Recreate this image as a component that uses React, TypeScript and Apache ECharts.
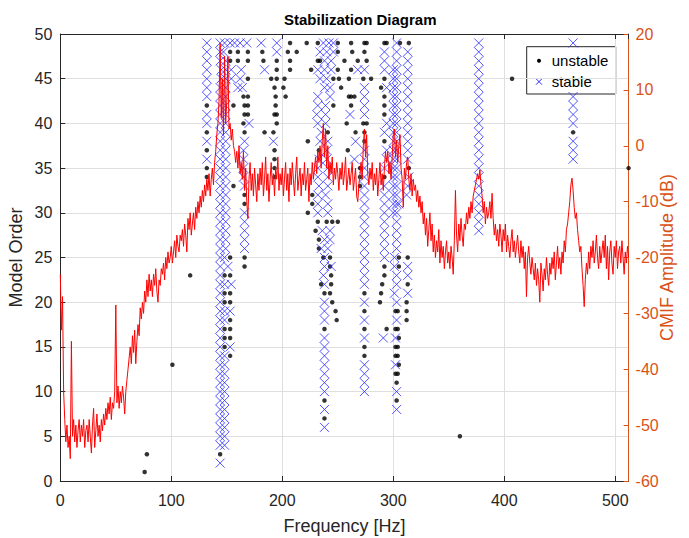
import React, { useEffect, useRef } from "react";
import * as echarts from "echarts";

// CMIF amplitude (dB), one value per Hz from 0 Hz to 512 Hz
const cmifDb: number[] = [
  -23, -33, -27, -44, -49, -53, -50, -54, -52, -56,
  -35, -52, -49, -53, -50, -54, -51, -49, -53, -50,
  -52, -49, -54, -51, -50, -53, -49, -52, -55, -50,
  -47, -54, -51, -48, -52, -50, -53, -49, -51, -48,
  -50, -47, -49, -46, -48, -45, -49, -46, -47, -44,
  -28.5, -46, -43, -47, -44, -46, -43, -45, -48, -44,
  -42, -40, -38, -36, -39, -34, -37, -33, -39, -35,
  -32, -34, -29, -31, -28, -30, -26, -28, -24, -27,
  -23, -26, -24, -27, -23, -25, -22, -26, -28, -24,
  -25, -22, -23, -21, -24, -20, -22, -19, -21, -20,
  -18, -21, -19, -17, -20, -16, -18, -19, -16, -17,
  -15, -18, -14, -16, -19, -13, -15, -12, -16, -14,
  -12, -15, -11, -13, -10, -12, -9, -11, -8, -10,
  -7, -9, -6, -8, -5, -9, -6, -4, -7, -3,
  -1, 2, 4, 8, 18.3, 5, 12, 2, 16, 4,
  8, 16, 3, 4, 1, 3, 0, -1, -3, -1,
  -4, 0, -5, -3, -6, -1, -8, -4, -10, -13,
  -6, -3, -8, -5, -9, -4, -7, -10, -5, -8,
  -4, -7, -3, -9, -6, -2, -8, -5, -10, -6,
  -3, -7, -5, -9, -4, -6, -2, -8, -5, -7,
  -4, -9, -6, -3, -8, -5, -10, -4, -7, -3,
  -6, -9, -5, -2, -8, -6, -4, -9, -5, -7,
  -3, -8, -6, -4, -10, -5, -7, -3, -6, -4,
  -2, -5, -1, -3, 0, -4, 1, 4, -2, 3,
  -4, 0, -6, -3, -5, -2, -7, -4, -6, -3,
  -5, -8, -4, -6, -3, -7, -5, -2, -8, -6,
  -4, -7, -5, -3, -8, -6, -4, -9, -10, -7,
  -5, -3, -6, 0, 3, -2, 2, -5, -7, -4,
  -6, -3, -8, -5, -7, -4, -9, -6, -3, -7,
  -5, -8, -4, -1, -3, -1, -5, -3, -6, -2,
  2, 3, -2, 1, -3, 0, 2, -4, -6, -11,
  -4, -6, -3, -2, -6, -8, -5, -9, -6, -8,
  -7, -10, -8, -11, -9, -12, -10, -14, -12, -16,
  -13, -18, -15, -12, -17, -14, -19, -16, -20, -17,
  -19, -15, -21, -17, -20, -18, -22, -19, -17, -21,
  -19, -22, -18, -20, -23, -17, -8, -16, -19, -14,
  -17, -13, -16, -18, -14, -15, -12, -14, -11, -13,
  -10, -12, -9, -8, -7, -6, -5, -6, -4.3, -7,
  -9, -12, -10, -14, -11, -13, -12, -10, -13, -8.5,
  -13, -16, -14, -17, -15, -18, -14, -16, -19, -15,
  -17, -14, -19, -16, -18, -20, -17, -15, -19, -17,
  -20, -18, -16, -19, -21, -17, -20, -18, -22, -19,
  -27, -20, -18, -21, -23, -20, -22, -24, -21, -25,
  -22, -24, -28, -21, -23, -26, -22, -24, -20, -23,
  -25, -21, -23, -20, -22, -19, -24, -21, -18, -22,
  -20, -23, -19, -21, -17, -19, -15, -14, -12, -10,
  -7, -5.8, -8, -11, -13, -12, -15, -17, -19, -18,
  -22, -25, -28.8, -24, -21, -23, -19, -22, -18, -20,
  -17, -21, -19, -16, -20, -22, -18, -21, -19, -17,
  -20, -16, -22, -18, -24, -19, -17, -21, -23, -18,
  -20, -17, -22, -19, -18, -21, -17, -20, -23, -19,
  -21, -18, -20,
];

// [frequency Hz, model order]
const stablePoles: [number, number][] = [
  [132,49],[144,49],[148,49],[153,49],[157,49],[162,49],[168,49],[181,49],[195,49],[237,49],[242,49],[246,49],[303,49],[377,49],[462,49],
  [132,48],[144,48],[147,48],[195,48],[234,48],[240,48],[246,48],[292,48],[303,48],[313,48],[377,48],
  [132,47],[144,47],[149,47],[238,47],[244,47],[292,47],[303,47],[313,47],[377,47],
  [132,46],[145,46],[149,46],[154,46],[163,46],[184,46],[232,46],[238,46],[244,46],[268,46],[274,46],[292,46],[300,46],[303,46],[313,46],[377,46],
  [132,45],[145,45],[149,45],[154,45],[162,45],[234,45],[240,45],[300,45],[303,45],[313,45],[377,45],
  [132,44],[144,44],[149,44],[160,44],[164,44],[238,44],[243,44],[274,44],[294,44],[300,44],[303,44],[313,44],[377,44],
  [132,43],[144,43],[149,43],[232,43],[243,43],[274,43],[300,43],[303,43],[313,43],[377,43],[462,43],
  [144,42],[149,42],[232,42],[239,42],[274,42],[300,42],[303,42],[313,42],[377,42],[462,42],
  [132,41],[144,41],[149,41],[231,41],[239,41],[261,41],[274,41],[300,41],[303,41],[313,41],[377,41],[462,41],
  [132,40],[144,40],[149,40],[170,40],[232,40],[239,40],[294,40],[300,40],[303,40],[313,40],[377,40],[462,40],
  [144,39],[149,39],[235,39],[292,39],[300,39],[303,39],[313,39],[377,39],
  [132,38],[144,38],[149,38],[166,38],[192,38],[234,38],[241,38],[266,38],[300,38],[303,38],[313,38],[377,38],[462,38],
  [144,37],[149,37],[165,37],[240,37],[274,37],[294,37],[300,37],[303,37],[313,37],[377,37],[462,37],
  [132,36],[144,36],[149,36],[165,36],[233,36],[240,36],[265,36],[274,36],[294,36],[300,36],[303,36],[313,36],[377,36],[462,36],
  [144,35],[149,35],[165,35],[232,35],[241,35],[274,35],[292,35],[300,35],[303,35],[377,35],
  [144,34],[149,34],[165,34],[232,34],[241,34],[274,34],[300,34],[303,34],[314,34],[377,34],
  [144,33],[149,33],[166,33],[233,33],[241,33],[274,33],[292,33],[300,33],[303,33],[313,33],[377,33],
  [144,32],[149,32],[232,32],[239,32],[274,32],[292,32],[300,32],[303,32],[312,32],[377,32],
  [144,31],[149,31],[232,31],[241,31],[274,31],[292,31],[300,31],[303,31],[305,31],[377,31],
  [144,30],[149,30],[166,30],[232,30],[241,30],[274,30],[292,30],[300,30],[303,30],[377,30],
  [144,29],[149,29],[166,29],[274,29],[292,29],[303,29],[377,29],
  [144,28],[149,28],[166,28],[236,28],[243,28],[274,28],[292,28],[303,28],[377,28],
  [144,27],[149,27],[166,27],[238,27],[243,27],[274,27],[292,27],[303,27],
  [144,26],[149,26],[166,26],[235,26],[241,26],[274,26],[292,26],[303,26],
  [144,25],[148,25],[238,25],[274,25],[292,25],[301,25],
  [144,24],[151,24],[238,24],[244,24],[274,24],[301,24],[313,24],
  [144,23],[237,23],[274,23],[303,23],[313,23],
  [144,22],[148,22],[154,22],[238,22],[274,22],[303,22],
  [144,21],[301,21],[313,21],
  [144,20],[238,20],[274,20],[303,20],
  [144,19],[148,19],[153,19],[238,19],
  [144,18],[148,18],[238,18],[274,18],[303,18],
  [144,17],
  [144,16],[238,16],[274,16],[291,16],[302,16],
  [144,15],[153,15],[238,15],
  [144,14],[148,14],[238,14],
  [144,13],[148,13],[238,13],[274,13],[302,13],
  [144,12],[148,12],[238,12],[274,12],
  [144,11],[148,11],[238,11],[274,11],
  [144,10],[148,10],[238,10],[274,10],[303,10],
  [144,9],[148,9],
  [144,8],[148,8],[238,8],[303,8],
  [144,7],[148,7],
  [144,6],[148,6],[238,6],
  [144,5],[148,5],
  [144,4],[148,4],
  [144,2],
];

const unstablePoles: [number, number][] = [
  [207,49],[222,49],[232,49],[250,49],[262,49],[274,49],[276,49],[292,49],[294,49],[306,49],[314,49],
  [153,48],[160,48],[169,48],[182,48],[205,48],[213,48],[250,48],[263,48],[274,48],
  [153,47],[160,47],[169,47],[183,47],[195,47],[207,47],[232,47],[234,47],[256,47],[268,47],[276,47],
  [195,46],[207,46],[226,46],[250,46],[262,46],
  [169,45],[190,45],[195,45],[202,45],[246,45],[251,45],[260,45],[273,45],[280,45],[292,45],[407,45],
  [193,44],[201,44],[253,44],[289,44],
  [165,43],[169,43],[194,43],[203,43],[260,43],[262,43],[265,43],[292,43],
  [132,42],[156,42],[166,42],[169,42],[194,42],[246,42],[262,42],[292,42],
  [166,41],[169,41],[193,41],[195,41],[292,41],
  [165,40],[195,40],[258,40],[273,40],[276,40],
  [132,39],[166,39],[184,39],[192,39],[241,39],[266,39],[274,39],[462,39],
  [223,38],[274,38],[292,38],
  [132,37],[193,37],[233,37],[259,37],
  [193,36],
  [132,35],[193,35],[270,35],[314,35],[512,35],
  [132,34],[193,34],[270,34],[292,34],
  [156,33],[270,33],
  [166,32],[227,32],
  [166,31],[227,31],
  [223,30],
  [232,29],[240,29],[245,29],[250,29],
  [230,28],
  [233,27],
  [233,26],
  [153,25],[166,25],[237,25],[243,25],[305,25],[313,25],
  [166,24],[243,24],[292,24],[305,24],
  [117,23],[148,23],[153,23],[244,23],[292,23],
  [235,22],[244,22],[290,22],[313,22],
  [148,21],[153,21],[238,21],[243,21],[274,21],[289,21],
  [148,20],[153,20],[245,20],[288,20],[312,20],
  [248,19],[274,19],[302,19],[304,19],[312,19],
  [153,18],[249,18],[312,18],
  [148,17],[153,17],[238,17],[274,17],[294,17],[302,17],[304,17],
  [148,16],[153,16],[305,16],
  [148,15],[274,15],[302,15],[304,15],
  [153,14],[274,14],[302,14],[304,14],
  [101,13],[305,13],
  [302,12],[304,12],
  [303,11],
  [238,9],[303,9],
  [238,7],
  [360,5],
  [78,3],[144,3],
  [76,1],
];

const FONT = "'Liberation Sans', Arial, Helvetica, sans-serif";
const AX = "#262626";
const ORANGE = "#D95319";
const GRID = "#dfdfdf";
const BLUE = "#2a2aff";

export default function App() {
  const ref = useRef<HTMLDivElement>(null);
  useEffect(() => {
    if (!ref.current) return;
    const chart = echarts.init(ref.current, undefined, { renderer: "svg" });
    const lineData = cmifDb.map((v, i) => [i, v]);
    chart.setOption({
      animation: false,
      backgroundColor: "#ffffff",
      title: {
        text: "Stabilization Diagram",
        left: 279,
        top: 7,
        textStyle: { fontFamily: FONT, fontSize: 15, fontWeight: "bold", color: "#000" },
      },
      grid: { left: 60.3, right: 60.4, top: 34, bottom: 57, containLabel: false, outerBoundsMode: "none" },
      xAxis: [
        {
          type: "value",
          min: 0,
          max: 512,
          interval: 100,
          position: "bottom",
          name: "Frequency [Hz]",
          nameLocation: "middle",
          nameGap: 36,
          nameMoveOverlap: false,
          nameTextStyle: { fontFamily: FONT, fontSize: 18, color: AX },
          axisLine: { show: true, onZero: false, lineStyle: { color: AX, width: 1 } },
          axisTick: { show: true, inside: true, length: 5, lineStyle: { color: AX } },
          axisLabel: { fontFamily: FONT, fontSize: 16, color: AX, margin: 11, showMaxLabel: false },
          splitLine: { show: true, lineStyle: { color: GRID, width: 1 } },
        },
        {
          type: "value",
          min: 0,
          max: 512,
          interval: 100,
          position: "top",
          axisLine: { show: true, onZero: false, lineStyle: { color: AX, width: 1 } },
          axisTick: { show: true, inside: true, length: 5, lineStyle: { color: AX } },
          axisLabel: { show: false },
          splitLine: { show: false },
        },
      ],
      yAxis: [
        {
          type: "value",
          min: 0,
          max: 50,
          interval: 5,
          position: "left",
          name: "Model Order",
          nameLocation: "middle",
          nameGap: 35,
          nameMoveOverlap: false,
          nameRotate: 90,
          nameTextStyle: { fontFamily: FONT, fontSize: 18, color: AX },
          axisLine: { show: true, onZero: false, lineStyle: { color: AX, width: 1 } },
          axisTick: { show: true, inside: true, length: 5, lineStyle: { color: AX } },
          axisLabel: { fontFamily: FONT, fontSize: 16, color: AX, margin: 8 },
          splitLine: { show: true, lineStyle: { color: GRID, width: 1 } },
        },
        {
          type: "value",
          min: -60,
          max: 20,
          interval: 10,
          position: "right",
          name: "CMIF Amplitude (dB)",
          nameLocation: "middle",
          nameGap: 29,
          nameMoveOverlap: false,
          nameRotate: 90,
          nameTextStyle: { fontFamily: FONT, fontSize: 18, color: ORANGE },
          axisLine: { show: true, onZero: false, lineStyle: { color: ORANGE, width: 1 } },
          axisTick: { show: true, inside: true, length: 5, lineStyle: { color: ORANGE } },
          axisLabel: { fontFamily: FONT, fontSize: 16, color: ORANGE, margin: 7 },
          splitLine: { show: false },
        },
      ],
      series: [
        {
          name: "unstable",
          type: "scatter",
          xAxisIndex: 0,
          yAxisIndex: 0,
          data: unstablePoles,
          symbol: "circle",
          symbolSize: 4.5,
          itemStyle: { color: "#000000" },
          z: 2,
        },
        {
          name: "stable",
          type: "scatter",
          xAxisIndex: 0,
          yAxisIndex: 0,
          data: stablePoles,
          symbol: "path://M0,0L10,10M10,0L0,10",
          symbolSize: 9,
          itemStyle: { color: "rgba(0,0,0,0)", borderColor: BLUE, borderWidth: 1 },
          z: 2,
        },
        {
          name: "CMIF",
          type: "line",
          xAxisIndex: 0,
          yAxisIndex: 1,
          data: lineData,
          showSymbol: false,
          symbol: "none",
          lineStyle: { color: "#ff0000", width: 1 },
          z: 3,
        },
      ],
      graphic: [
        {
          type: "group",
          z: 100,
          children: [
            {
              type: "rect",
              shape: { x: 526.7, y: 46.7, width: 89, height: 47.3 },
              style: { fill: "#ffffff", stroke: AX, lineWidth: 1 },
            },
            {
              type: "circle",
              shape: { cx: 539, cy: 60.7, r: 2 },
              style: { fill: "#000000" },
            },
            {
              type: "line",
              shape: { x1: 536, y1: 78.7, x2: 542, y2: 84.7 },
              style: { stroke: BLUE, lineWidth: 1 },
            },
            {
              type: "line",
              shape: { x1: 542, y1: 78.7, x2: 536, y2: 84.7 },
              style: { stroke: BLUE, lineWidth: 1 },
            },
            {
              type: "text",
              x: 551.7,
              y: 60.7,
              style: { text: "unstable", fill: "#000", fontFamily: FONT, fontSize: 15, verticalAlign: "middle" },
            },
            {
              type: "text",
              x: 551.7,
              y: 81.7,
              style: { text: "stable", fill: "#000", fontFamily: FONT, fontSize: 15, verticalAlign: "middle" },
            },
          ],
        },
      ],
    });
    return () => chart.dispose();
  }, []);
  return (
    <div
      ref={ref}
      style={{ position: "absolute", left: 0, top: 0, width: 689, height: 538 }}
    />
  );
}
